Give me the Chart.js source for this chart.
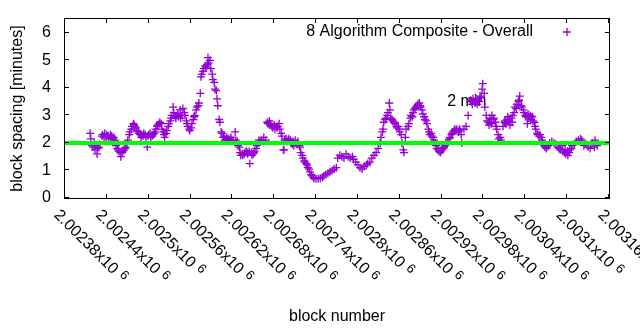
<!DOCTYPE html>
<html>
<head>
<meta charset="utf-8">
<script src="https://cdn.jsdelivr.net/npm/chart.js@4.4.0/dist/chart.umd.min.js"></script>
<style>
  body { margin: 0; background: #fff; }
</style>
</head>
<body>
<canvas id="chart" width="640" height="330"></canvas>
<script>
const seriesName = "8 Algorithm Composite - Overall";
const lineLabel = "2 min";
const lineValue = 2;
const lineLabelAt = [2002928, 3.5];
const xMin = 2002380, xMax = 2003160, xStep = 60;
const xTickLabels = ["2.00238", "2.00244", "2.0025", "2.00256", "2.00262", "2.00268", "2.00274",
  "2.0028", "2.00286", "2.00292", "2.00298", "2.00304", "2.0031", "2.00316"];

const blocks = [
  2002416, 2002417, 2002419, 2002420, 2002422, 2002423, 2002424, 2002426, 2002427, 2002429,
  2002430, 2002433, 2002434, 2002436, 2002437, 2002439, 2002440, 2002442, 2002443, 2002445,
  2002446, 2002447, 2002449, 2002450, 2002452, 2002453, 2002455, 2002456, 2002457, 2002459,
  2002460, 2002462, 2002463, 2002465, 2002466, 2002467, 2002469, 2002470, 2002472, 2002473,
  2002475, 2002476, 2002478, 2002479, 2002480, 2002482, 2002483, 2002485, 2002486, 2002488,
  2002489, 2002490, 2002492, 2002493, 2002495, 2002496, 2002498, 2002499, 2002500, 2002502,
  2002503, 2002505, 2002506, 2002508, 2002509, 2002510, 2002512, 2002513, 2002515, 2002516,
  2002518, 2002519, 2002521, 2002522, 2002523, 2002525, 2002526, 2002528, 2002529, 2002531,
  2002532, 2002533, 2002535, 2002536, 2002538, 2002539, 2002541, 2002542, 2002543, 2002545,
  2002546, 2002548, 2002549, 2002551, 2002552, 2002554, 2002555, 2002556, 2002558, 2002559,
  2002561, 2002562, 2002564, 2002565, 2002566, 2002568, 2002569, 2002571, 2002572, 2002574,
  2002575, 2002576, 2002578, 2002579, 2002581, 2002582, 2002584, 2002585, 2002586, 2002588,
  2002589, 2002591, 2002592, 2002594, 2002595, 2002597, 2002598, 2002599, 2002601, 2002602,
  2002604, 2002605, 2002607, 2002608, 2002609, 2002611, 2002612, 2002614, 2002615, 2002617,
  2002618, 2002621, 2002624, 2002625, 2002627, 2002628, 2002630, 2002631, 2002632, 2002634,
  2002635, 2002637, 2002638, 2002640, 2002641, 2002642, 2002644, 2002645, 2002647, 2002648,
  2002650, 2002651, 2002652, 2002654, 2002655, 2002657, 2002658, 2002660, 2002662, 2002665,
  2002668, 2002670, 2002671, 2002673, 2002674, 2002675, 2002677, 2002678, 2002680, 2002681,
  2002683, 2002684, 2002685, 2002687, 2002688, 2002690, 2002691, 2002693, 2002694, 2002695,
  2002697, 2002698, 2002700, 2002701, 2002703, 2002704, 2002706, 2002707, 2002708, 2002710,
  2002711, 2002713, 2002714, 2002716, 2002717, 2002718, 2002720, 2002721, 2002723, 2002724,
  2002726, 2002727, 2002728, 2002730, 2002731, 2002733, 2002734, 2002736, 2002737, 2002740,
  2002743, 2002746, 2002749, 2002751, 2002754, 2002757, 2002760, 2002763, 2002766, 2002769,
  2002771, 2002774, 2002777, 2002780, 2002783, 2002786, 2002789, 2002792, 2002794, 2002797,
  2002800, 2002803, 2002806, 2002809, 2002812, 2002814, 2002817, 2002820, 2002823, 2002826,
  2002829, 2002832, 2002833, 2002835, 2002836, 2002837, 2002839, 2002840, 2002842, 2002843,
  2002845, 2002846, 2002847, 2002849, 2002850, 2002852, 2002853, 2002855, 2002856, 2002858,
  2002859, 2002860, 2002862, 2002863, 2002865, 2002866, 2002868, 2002869, 2002872, 2002873,
  2002875, 2002876, 2002878, 2002879, 2002880, 2002882, 2002883, 2002885, 2002886, 2002888,
  2002889, 2002890, 2002892, 2002893, 2002895, 2002896, 2002898, 2002899, 2002901, 2002902,
  2002903, 2002905, 2002906, 2002908, 2002909, 2002911, 2002912, 2002913, 2002915, 2002916,
  2002918, 2002919, 2002921, 2002922, 2002923, 2002925, 2002926, 2002928, 2002929, 2002931,
  2002932, 2002934, 2002935, 2002936, 2002938, 2002939, 2002941, 2002942, 2002944, 2002945,
  2002946, 2002948, 2002949, 2002952, 2002955, 2002958, 2002961, 2002962, 2002964, 2002965,
  2002967, 2002968, 2002969, 2002971, 2002972, 2002974, 2002975, 2002977, 2002978, 2002979,
  2002981, 2002982, 2002984, 2002985, 2002987, 2002988, 2002989, 2002991, 2002992, 2002994,
  2002995, 2002997, 2002998, 2002999, 2003001, 2003002, 2003004, 2003005, 2003008, 2003010,
  2003011, 2003012, 2003014, 2003015, 2003017, 2003018, 2003020, 2003021, 2003022, 2003024,
  2003025, 2003027, 2003028, 2003030, 2003031, 2003032, 2003034, 2003035, 2003037, 2003038,
  2003040, 2003041, 2003043, 2003044, 2003045, 2003047, 2003048, 2003050, 2003051, 2003053,
  2003054, 2003055, 2003057, 2003058, 2003060, 2003061, 2003063, 2003064, 2003065, 2003067,
  2003068, 2003070, 2003071, 2003073, 2003075, 2003078, 2003081, 2003084, 2003087, 2003088,
  2003090, 2003093, 2003094, 2003096, 2003097, 2003098, 2003100, 2003101, 2003103, 2003104,
  2003106, 2003107, 2003110, 2003113, 2003116, 2003119, 2003121, 2003124, 2003127, 2003130,
  2003133, 2003134, 2003136, 2003139, 2003140, 2003143
];

const spacing = [
  2.35, 2.15, 1.9, 1.85, 2.0, 1.75, 1.9, 1.6, 1.8, 1.85,
  1.95, 2.25, 2.3, 2.2, 2.35, 2.2, 2.3, 2.25, 2.15, 2.3,
  2.2, 2.25, 2.15, 2.2, 2.1, 1.9, 1.8, 1.75, 1.7, 1.65,
  1.5, 1.65, 1.7, 1.75, 1.8, 1.85, 1.95, 2.1, 2.3, 2.4,
  2.5, 2.6, 2.7, 2.65, 2.6, 2.55, 2.45, 2.4, 2.35, 2.3,
  2.2, 2.3, 2.25, 2.35, 2.3, 2.2, 1.85, 2.25, 2.3, 2.35,
  2.2, 2.25, 2.3, 2.35, 2.4, 2.5, 2.6, 2.65, 2.7, 2.75,
  2.7, 2.5, 2.4, 2.3, 2.2, 2.35, 2.45, 2.6, 2.7, 2.8,
  2.9, 3.0, 3.3, 3.1, 2.95, 2.9, 3.0, 3.05, 2.95, 3.2,
  2.9, 3.0, 3.25, 3.1, 3.0, 2.8, 2.7, 2.6, 2.5, 2.45,
  2.55, 2.7, 2.85, 2.95, 3.0, 3.2, 3.3, 3.35, 3.45, 3.8,
  4.4, 4.5, 4.6, 4.7, 4.8, 4.75, 4.85, 5.1, 4.9, 5.0,
  4.7, 4.5, 4.3, 4.2, 3.95, 3.9, 3.6, 3.35, 2.85, 2.75,
  2.4, 2.35, 2.2, 2.25, 2.1, 2.15, 2.2, 2.1, 2.15, 2.1,
  2.2, 2.1, 2.4, 2.1, 2.05, 1.9, 1.85, 1.65, 1.55, 1.6,
  1.55, 1.6, 1.65, 1.7, 1.65, 1.6, 1.7, 1.25, 1.65, 1.55,
  1.6, 1.65, 1.7, 1.8, 1.9, 2.0, 2.1, 2.05, 2.1, 2.2,
  2.1, 2.75, 2.7, 2.8, 2.65, 2.7, 2.6, 2.55, 2.65, 2.5,
  2.6, 2.55, 2.6, 2.7, 2.5, 2.35, 2.25, 1.75, 1.75, 2.1,
  2.15, 2.05, 2.1, 2.15, 2.1, 2.0, 1.95, 2.05, 1.9, 2.1,
  2.0, 1.95, 2.05, 1.9, 1.85, 1.65, 1.55, 1.45, 1.35, 1.3,
  1.25, 1.2, 1.1, 1.05, 0.95, 0.85, 0.8, 0.75, 0.72, 0.7,
  0.7, 0.72, 0.75, 0.8, 0.85, 0.9, 0.95, 1.0, 1.05, 1.1,
  1.45, 1.55, 1.5, 1.45, 1.6, 1.5, 1.45, 1.5, 1.4, 1.3,
  1.2, 1.1, 1.05, 1.15, 1.2, 1.25, 1.3, 1.45, 1.55, 1.65,
  1.8, 2.0, 2.2, 2.4, 2.5, 2.75, 2.85, 2.9, 3.0, 3.1,
  3.45, 3.2, 2.9, 2.85, 2.8, 2.75, 2.7, 2.6, 2.55, 2.6,
  2.5, 2.4, 2.3, 2.0, 1.75, 1.65, 2.2, 2.5, 2.6, 2.7,
  2.9, 3.0, 2.95, 3.1, 3.2, 3.25, 3.3, 3.35, 3.4, 3.45,
  3.35, 3.3, 3.2, 3.05, 2.95, 2.85, 2.8, 2.7, 2.5, 2.4,
  2.3, 2.35, 2.25, 2.2, 2.1, 2.0, 1.9, 1.8, 1.75, 1.7,
  1.65, 1.7, 1.75, 1.8, 1.85, 1.9, 2.0, 1.95, 2.05, 2.15,
  2.2, 2.3, 2.35, 2.4, 2.45, 2.5, 2.45, 2.5, 2.4, 2.45,
  2.5, 2.3, 2.0, 2.5, 2.6, 3.0, 3.5, 3.55, 3.4, 3.6,
  3.5, 3.45, 3.6, 3.4, 3.55, 3.5, 3.7, 3.65, 3.95, 4.15,
  3.8, 3.3, 3.0, 2.8, 2.75, 2.65, 2.9, 2.7, 3.0, 2.85,
  2.9, 2.75, 2.6, 2.5, 2.3, 2.15, 2.2, 2.1, 2.6, 2.75,
  2.8, 2.7, 2.85, 2.95, 2.8, 2.65, 2.9, 2.75, 3.0, 3.1,
  3.3, 3.25, 3.4, 3.5, 3.55, 3.7, 3.35, 3.3, 3.2, 3.1,
  3.0, 2.95, 2.7, 3.05, 2.9, 3.0, 2.85, 2.95, 2.8, 2.75,
  2.6, 2.5, 2.35, 2.3, 2.25, 2.3, 2.2, 2.1, 2.0, 1.9,
  1.85, 1.8, 1.85, 1.9, 2.0, 2.05, 2.0, 1.95, 1.85, 1.8,
  1.75, 1.9, 1.7, 1.65, 1.75, 1.6, 1.7, 1.55, 1.65, 1.75,
  1.8, 1.9, 1.95, 2.05, 2.1, 2.15, 2.1, 1.9, 1.95, 1.85,
  1.8, 1.95, 2.0, 1.85, 2.1, 1.9
];

const purple = "#9400d3";
const green = "#00ff00";
const fontFamily = '"Liberation Sans", Arial, sans-serif';

Chart.defaults.font.family = fontFamily;
Chart.defaults.font.size = 16;
Chart.defaults.color = "#000";

// gnuplot-like frame, inward ticks, rotated x labels, key and line label
const gnuplotBits = {
  id: "gnuplotBits",
  beforeDatasetsDraw(chart) {
    const {ctx, scales: {x, y}} = chart;
    ctx.save();
    ctx.font = "16px " + fontFamily;
    ctx.fillStyle = "#000";
    ctx.textBaseline = "middle";
    ctx.textAlign = "left";
    ctx.fillText(lineLabel, x.getPixelForValue(lineLabelAt[0]), y.getPixelForValue(lineLabelAt[1]));
    ctx.restore();
  },
  afterDraw(chart) {
    const {ctx, chartArea: a, scales: {x, y}} = chart;
    const tl = 4;
    ctx.save();
    ctx.strokeStyle = "#000";
    ctx.lineWidth = 1;
    ctx.strokeRect(a.left - 0.5, a.top - 0.5, a.right - a.left + 1, a.bottom - a.top + 1);
    ctx.beginPath();
    x.ticks.forEach(t => {
      const px = Math.round(x.getPixelForValue(t.value)) - 0.5;
      ctx.moveTo(px, a.bottom); ctx.lineTo(px, a.bottom - tl);
      ctx.moveTo(px, a.top); ctx.lineTo(px, a.top + tl);
    });
    y.ticks.forEach(t => {
      const py = Math.round(y.getPixelForValue(t.value)) - 0.5;
      ctx.moveTo(a.left, py); ctx.lineTo(a.left + tl, py);
      ctx.moveTo(a.right, py); ctx.lineTo(a.right - tl, py);
    });
    ctx.stroke();

    // x tick labels, turned 45 degrees clockwise
    ctx.fillStyle = "#000";
    ctx.textAlign = "left";
    ctx.textBaseline = "top";
    x.ticks.forEach((t, i) => {
      const px = x.getPixelForValue(t.value);
      ctx.save();
      ctx.translate(px - 3, a.bottom + 9);
      ctx.rotate(Math.PI / 4);
      ctx.font = "16px " + fontFamily;
      const main = xTickLabels[i] + "x10";
      ctx.fillText(main, 0, 0);
      const w = ctx.measureText(main).width;
      ctx.font = "13px " + fontFamily;
      ctx.fillText("6", w + 5, -2);
      ctx.restore();
    });

    // key
    const ky = 32;
    ctx.font = "16px " + fontFamily;
    ctx.textAlign = "right";
    ctx.textBaseline = "middle";
    ctx.fillText(seriesName, 533, ky);
    ctx.strokeStyle = purple;
    ctx.lineWidth = 1.3;
    ctx.beginPath();
    ctx.moveTo(563, ky); ctx.lineTo(571, ky);
    ctx.moveTo(567, ky - 4); ctx.lineTo(567, ky + 4);
    ctx.stroke();
    ctx.restore();
  }
};

const points = blocks.map((b, i) => ({x: b, y: spacing[i]}));

new Chart(document.getElementById("chart"), {
  type: "scatter",
  data: {
    datasets: [
      {
        label: lineLabel,
        data: [{x: xMin, y: lineValue}, {x: xMax, y: lineValue}],
        showLine: true,
        borderColor: green,
        borderWidth: 4,
        pointRadius: 0,
        order: 0
      },
      {
        label: seriesName,
        data: points,
        pointStyle: "cross",
        pointRadius: 4,
        borderColor: purple,
        backgroundColor: purple,
        borderWidth: 1.3,
        order: 1
      }
    ]
  },
  options: {
    responsive: false,
    animation: false,
    layout: { padding: { top: 19, right: 31, left: 0, bottom: 0 } },
    plugins: {
      legend: { display: false },
      tooltip: { enabled: false }
    },
    scales: {
      x: {
        type: "linear",
        min: xMin,
        max: xMax,
        ticks: { stepSize: xStep, display: false },
        grid: { display: false, drawTicks: false },
        border: { display: false },
        title: { display: true, text: "block number", padding: { bottom: 4 } },
        afterFit(scale) { scale.height = 132; }
      },
      y: {
        min: 0,
        max: 6.5,
        ticks: { stepSize: 1, includeBounds: false, padding: 14 },
        grid: { display: false, drawTicks: false },
        border: { display: false },
        title: { display: true, text: "block spacing [minutes]", padding: { top: 8 } },
        afterFit(scale) {
          scale.width = 65;
          scale.paddingTop = 0;
          scale.paddingBottom = 0;
        }
      }
    }
  },
  plugins: [gnuplotBits]
});
</script>
</body>
</html>
